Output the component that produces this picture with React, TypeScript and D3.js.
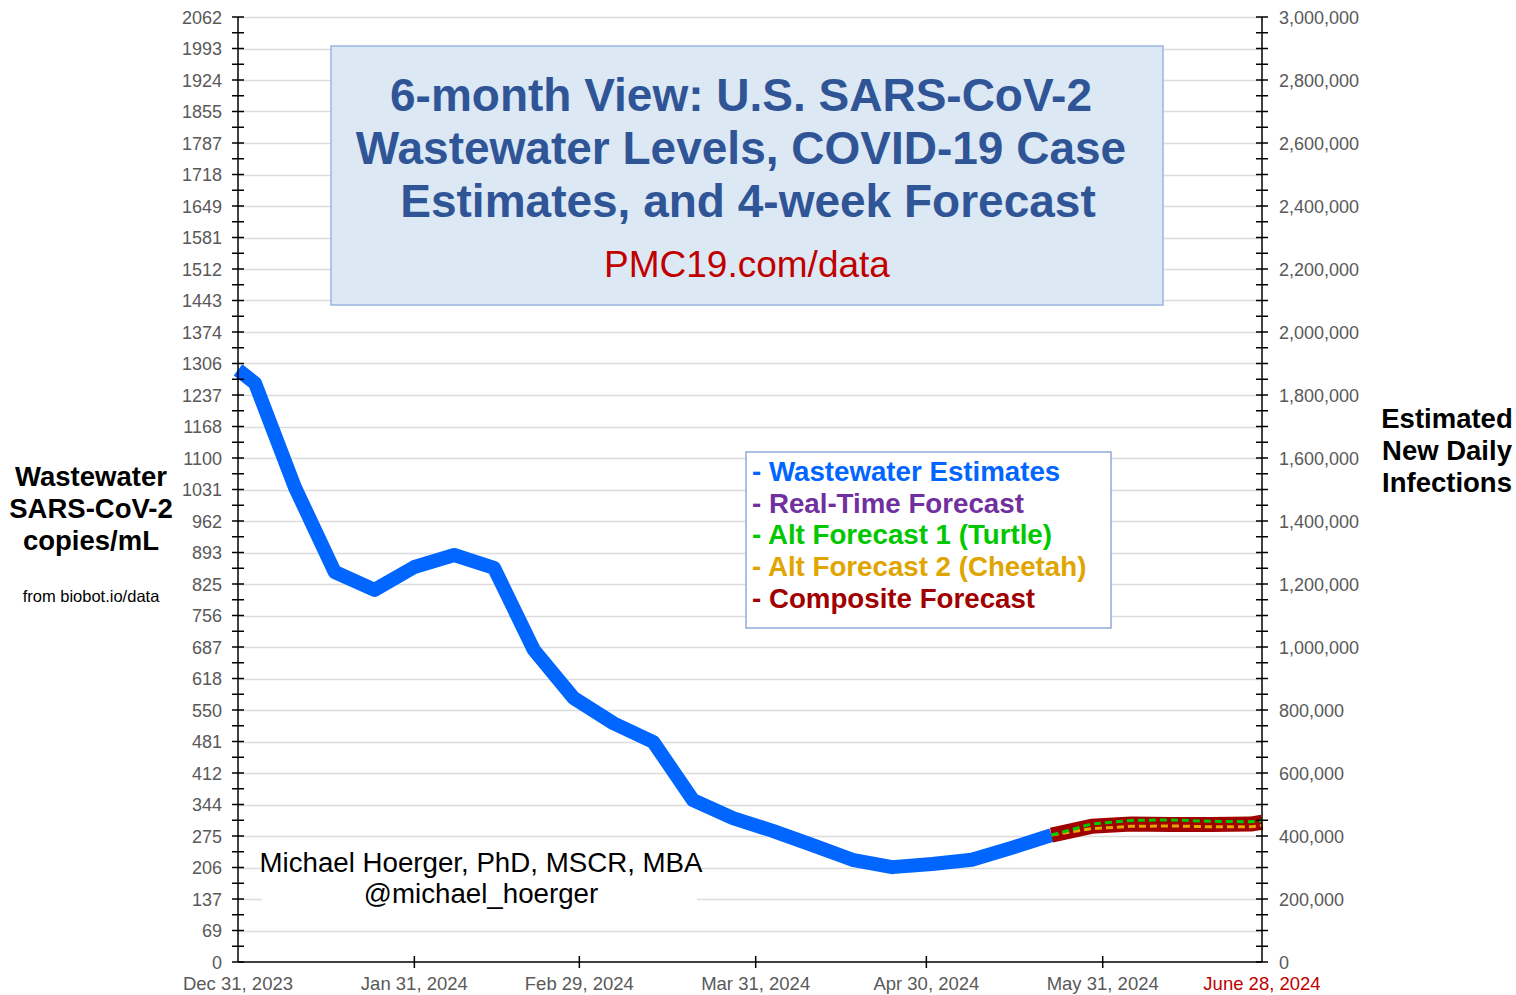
import React, { useEffect, useRef } from 'react';
import * as d3 from 'd3';

const W = 1516;
const H = 995;

const wwDates = [
  '2023-12-31', '2024-01-03', '2024-01-10', '2024-01-17', '2024-01-24', '2024-01-31',
  '2024-02-07', '2024-02-14', '2024-02-21', '2024-02-28', '2024-03-06', '2024-03-13',
  '2024-03-20', '2024-03-27', '2024-04-03', '2024-04-10', '2024-04-17', '2024-04-24',
  '2024-05-01', '2024-05-08', '2024-05-15', '2024-05-22',
];
const wwValues = [
  1292, 1263, 1036, 851, 812, 862, 888, 860, 681, 576, 521, 480,
  353, 314, 286, 255, 223, 207, 214, 223, 249, 277,
];

const fcDates = ['2024-05-22', '2024-05-29', '2024-06-05', '2024-06-12', '2024-06-19', '2024-06-26', '2024-06-28'];
const realTimeForecast = [277, 296, 301, 300, 300, 301, 304];
const turtleForecast = [277, 301, 309, 310, 307, 306, 308];
const cheetahForecast = [277, 291, 296, 297, 295, 295, 298];
const compositeForecast = [277, 296, 301, 300, 300, 301, 305];

const leftTickLabels = [
  '0', '69', '137', '206', '275', '344', '412', '481', '550', '618', '687', '756',
  '825', '893', '962', '1031', '1100', '1168', '1237', '1306', '1374', '1443',
  '1512', '1581', '1649', '1718', '1787', '1855', '1924', '1993', '2062',
];
const rightTicks = d3.range(0, 3000001, 200000);
const xTickDates = ['2023-12-31', '2024-01-31', '2024-02-29', '2024-03-31', '2024-04-30', '2024-05-31', '2024-06-28'];
const xTickLabels = ['Dec 31, 2023', 'Jan 31, 2024', 'Feb 29, 2024', 'Mar 31, 2024', 'Apr 30, 2024', 'May 31, 2024', 'June 28, 2024'];

const titleLines = ['6-month View: U.S. SARS-CoV-2', 'Wastewater Levels, COVID-19 Case', 'Estimates, and 4-week Forecast'];
const legendItems = [
  { label: '- Wastewater Estimates', color: '#0066ff' },
  { label: '- Real-Time Forecast', color: '#7030a0' },
  { label: '- Alt Forecast 1 (Turtle)', color: '#00c800' },
  { label: '- Alt Forecast 2 (Cheetah)', color: '#e0a500' },
  { label: '- Composite Forecast', color: '#a00000' },
];

const FONT = '"Liberation Sans", Arial, sans-serif';

const App: React.FC = () => {
  const svgRef = useRef<SVGSVGElement>(null);

  useEffect(() => {
    if (!svgRef.current) return;
    const svg = d3.select(svgRef.current);
    svg.selectAll('*').remove();

    const left = 238, right = 1262, top = 17, bottom = 962;
    const parse = d3.utcParse('%Y-%m-%d');

    const x = d3.scaleUtc()
      .domain([parse('2023-12-31')!, parse('2024-06-28')!])
      .range([left, right]);
    const yMax = 2062;
    const y = d3.scaleLinear().domain([0, yMax]).range([bottom, top]);
    const y2 = d3.scaleLinear().domain([0, 3000000]).range([bottom, top]);

    svg.append('rect').attr('width', W).attr('height', H).attr('fill', '#fff');

    const leftTickVals = leftTickLabels.map((_, i) => (i * yMax) / 30);

    // Grid lines
    svg.append('g')
      .selectAll('line')
      .data(leftTickVals.slice(1))
      .enter()
      .append('line')
      .attr('x1', left).attr('x2', right)
      .attr('y1', d => Math.round(y(d)) + 0.5).attr('y2', d => Math.round(y(d)) + 0.5)
      .attr('stroke', '#dcdcdc')
      .attr('stroke-width', 1.5);

    // Title box
    svg.append('rect')
      .attr('x', 331).attr('y', 46).attr('width', 832).attr('height', 259)
      .attr('fill', '#dde8f5').attr('stroke', '#9ab5e0').attr('stroke-width', 1.5);
    svg.append('g')
      .selectAll('text')
      .data(titleLines)
      .enter()
      .append('text')
      .attr('x', (_, i) => (i === 2 ? 748 : 741)).attr('y', (_, i) => 111 + i * 53)
      .attr('text-anchor', 'middle')
      .attr('font-family', FONT).attr('font-weight', 'bold').attr('font-size', 46)
      .attr('fill', '#2f5597')
      .text(d => d);
    svg.append('text')
      .attr('x', 747).attr('y', 277)
      .attr('text-anchor', 'middle')
      .attr('font-family', FONT).attr('font-size', 37)
      .attr('fill', '#c00000')
      .text('PMC19.com/data');

    // Legend
    svg.append('rect')
      .attr('x', 746).attr('y', 452).attr('width', 365).attr('height', 176)
      .attr('fill', '#fff').attr('stroke', '#8eaadb').attr('stroke-width', 1.5);
    svg.append('g')
      .selectAll('text')
      .data(legendItems)
      .enter()
      .append('text')
      .attr('x', 752).attr('y', (_, i) => 481 + i * 31.7)
      .attr('font-family', FONT).attr('font-weight', 'bold').attr('font-size', 27.7)
      .attr('fill', d => d.color)
      .text(d => d.label);

    // Author
    svg.append('rect')
      .attr('x', 262).attr('y', 846).attr('width', 435).attr('height', 62)
      .attr('fill', '#fff');
    svg.append('text')
      .attr('x', 481).attr('y', 872)
      .attr('text-anchor', 'middle')
      .attr('font-family', FONT).attr('font-size', 27.7).attr('fill', '#000')
      .text('Michael Hoerger, PhD, MSCR, MBA');
    svg.append('text')
      .attr('x', 481).attr('y', 903)
      .attr('text-anchor', 'middle')
      .attr('font-family', FONT).attr('font-size', 27.7).attr('fill', '#000')
      .text('@michael_hoerger');

    // Series
    const wwData = wwDates.map((d, i) => ({ date: parse(d)!, v: wwValues[i] }));
    const line = d3.line<{ date: Date; v: number }>()
      .x(d => x(d.date))
      .y(d => y(d.v));

    svg.append('path')
      .datum(wwData)
      .attr('fill', 'none')
      .attr('stroke', '#0066ff')
      .attr('stroke-width', 14)
      .attr('stroke-linejoin', 'round')
      .attr('d', line);

    const fc = (vals: number[]) => fcDates.map((d, i) => ({ date: parse(d)!, v: vals[i] }));

    svg.append('path')
      .datum(fc(realTimeForecast))
      .attr('fill', 'none').attr('stroke', '#7030a0').attr('stroke-width', 8)
      .attr('d', line);
    svg.append('path')
      .datum(fc(compositeForecast))
      .attr('fill', 'none').attr('stroke', '#a00000').attr('stroke-width', 15)
      .attr('stroke-linejoin', 'round')
      .attr('d', line);
    svg.append('path')
      .datum(fc(cheetahForecast))
      .attr('fill', 'none').attr('stroke', '#e0a500').attr('stroke-width', 3)
      .attr('stroke-dasharray', '7,4')
      .attr('d', line);
    svg.append('path')
      .datum(fc(turtleForecast))
      .attr('fill', 'none').attr('stroke', '#00c800').attr('stroke-width', 3)
      .attr('stroke-dasharray', '7,4')
      .attr('d', line);

    // Left axis
    const axisColor = '#000';
    const labelColor = '#595959';
    const leftAxis = svg.append('g');
    leftAxis.append('line')
      .attr('x1', left).attr('x2', left).attr('y1', top).attr('y2', bottom)
      .attr('stroke', axisColor).attr('stroke-width', 1.5);
    const leftMinor = d3.range(0, 61).map(i => (i * yMax) / 60);
    leftAxis.selectAll('.tick')
      .data(leftMinor)
      .enter()
      .append('line')
      .attr('x1', left - 6).attr('x2', left + 6)
      .attr('y1', d => y(d)).attr('y2', d => y(d))
      .attr('stroke', axisColor).attr('stroke-width', 1.5);
    leftAxis.selectAll('text')
      .data(leftTickLabels)
      .enter()
      .append('text')
      .attr('x', left - 16).attr('y', (_, i) => y(leftTickVals[i]) + 6.5)
      .attr('text-anchor', 'end')
      .attr('font-family', FONT).attr('font-size', 18).attr('fill', labelColor)
      .text(d => d);

    // Right axis
    const rightAxis = svg.append('g');
    rightAxis.append('line')
      .attr('x1', right).attr('x2', right).attr('y1', top).attr('y2', bottom)
      .attr('stroke', axisColor).attr('stroke-width', 1.5);
    rightAxis.selectAll('.tick')
      .data(d3.range(0, 3000001, 50000))
      .enter()
      .append('line')
      .attr('x1', right - 6).attr('x2', right + 6)
      .attr('y1', d => y2(d)).attr('y2', d => y2(d))
      .attr('stroke', axisColor).attr('stroke-width', 1.5);
    rightAxis.selectAll('text')
      .data(rightTicks)
      .enter()
      .append('text')
      .attr('x', right + 17).attr('y', d => y2(d) + 6.5)
      .attr('font-family', FONT).attr('font-size', 18).attr('fill', labelColor)
      .text(d => d3.format(',')(d));

    // X axis
    const xAxis = svg.append('g');
    xAxis.append('line')
      .attr('x1', left).attr('x2', right).attr('y1', bottom).attr('y2', bottom)
      .attr('stroke', axisColor).attr('stroke-width', 1.5);
    xAxis.selectAll('.tick')
      .data(xTickDates.slice(1, -1))
      .enter()
      .append('line')
      .attr('x1', d => x(parse(d)!)).attr('x2', d => x(parse(d)!))
      .attr('y1', bottom - 6).attr('y2', bottom + 6)
      .attr('stroke', axisColor).attr('stroke-width', 1.5);
    xAxis.selectAll('text')
      .data(xTickLabels)
      .enter()
      .append('text')
      .attr('x', (_, i) => x(parse(xTickDates[i])!))
      .attr('y', 990)
      .attr('text-anchor', 'middle')
      .attr('font-family', FONT).attr('font-size', 18.5)
      .attr('fill', (_, i) => (i === xTickLabels.length - 1 ? '#c00000' : labelColor))
      .text(d => d);

    // Axis titles
    const leftTitle = ['Wastewater', 'SARS-CoV-2', 'copies/mL'];
    svg.append('g')
      .selectAll('text')
      .data(leftTitle)
      .enter()
      .append('text')
      .attr('x', 91).attr('y', (_, i) => 486 + i * 32)
      .attr('text-anchor', 'middle')
      .attr('font-family', FONT).attr('font-weight', 'bold').attr('font-size', 27.5)
      .attr('fill', '#000')
      .text(d => d);
    svg.append('text')
      .attr('x', 91).attr('y', 602)
      .attr('text-anchor', 'middle')
      .attr('font-family', FONT).attr('font-size', 16.5).attr('fill', '#000')
      .text('from biobot.io/data');

    const rightTitle = ['Estimated', 'New Daily', 'Infections'];
    svg.append('g')
      .selectAll('text')
      .data(rightTitle)
      .enter()
      .append('text')
      .attr('x', 1447).attr('y', (_, i) => 428 + i * 32)
      .attr('text-anchor', 'middle')
      .attr('font-family', FONT).attr('font-weight', 'bold').attr('font-size', 27.5)
      .attr('fill', '#000')
      .text(d => d);
  }, []);

  return (
    <div style={{ position: 'absolute', left: 0, top: 0 }}>
      <svg ref={svgRef} width={W} height={H} style={{ display: 'block' }} />
    </div>
  );
};

export default App;
